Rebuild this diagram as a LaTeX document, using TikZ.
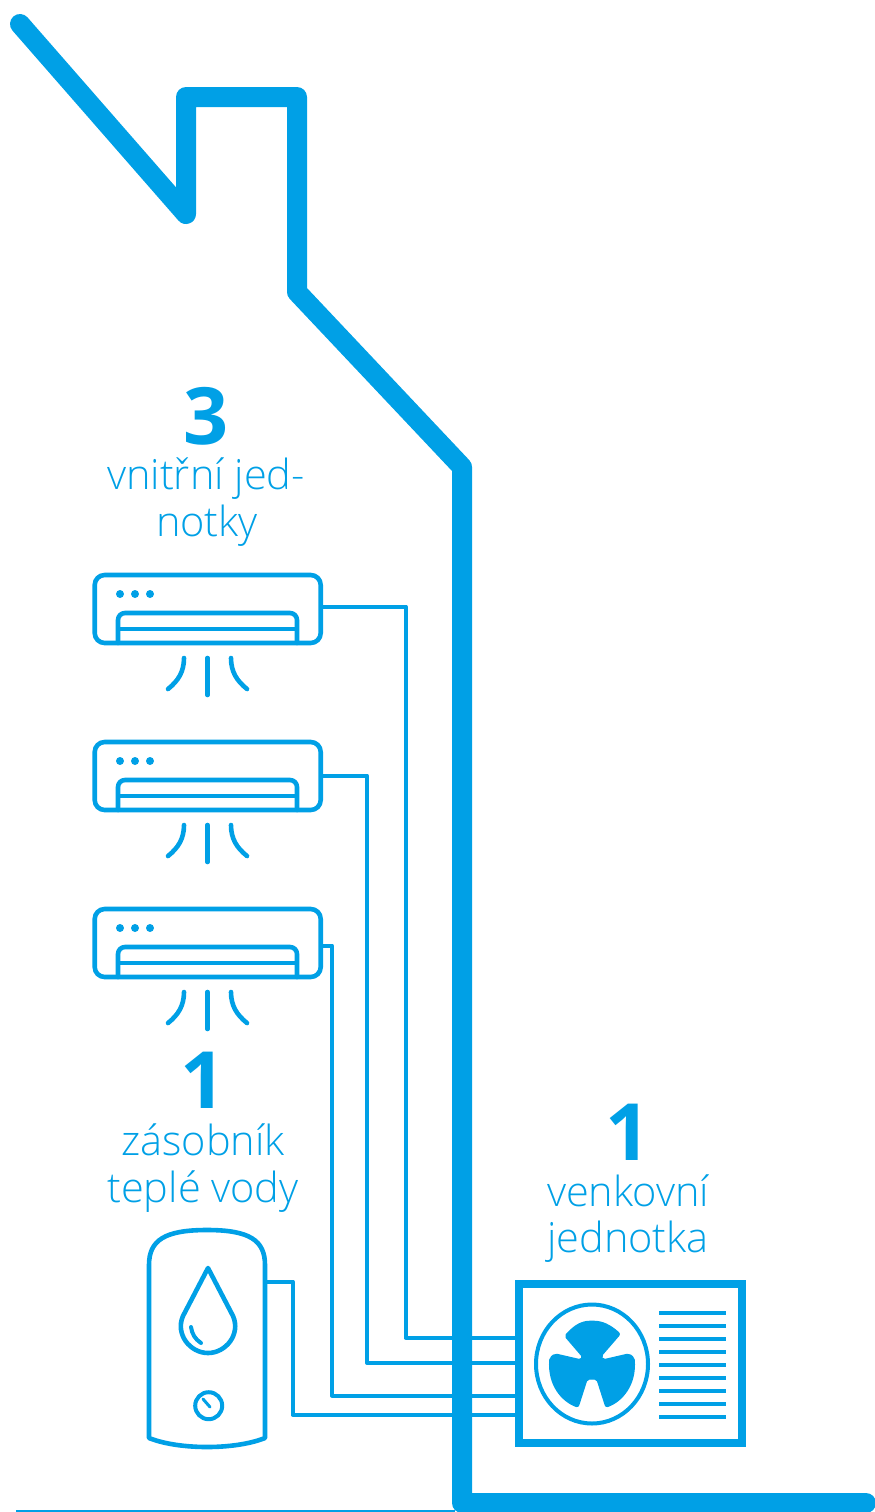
\documentclass[tikz,border=0pt]{standalone}
\usepackage{fontspec}
\setmainfont{Open Sans Light}[BoldFont={Open Sans Bold}]
\definecolor{modra}{HTML}{00A0E6}
\tikzset{
  popis/.style={anchor=base, text=modra, font=\fontsize{41.5}{41.5}\selectfont, inner sep=0pt},
  cislo/.style={anchor=base, text=modra, font=\fontsize{79}{79}\selectfont\bfseries, inner sep=0pt},
  potrubi/.style={draw=modra, line width=4pt, line join=round},
  ikona/.style={draw=modra, line width=4.6pt, line join=round, line cap=round},
  jednotka/.style={draw=modra, line width=4.6pt, rounded corners=10pt, minimum width=226pt, minimum height=68pt, inner sep=0pt}
}
\begin{document}
\begin{tikzpicture}[x=1pt, y=-1pt]
  \useasboundingbox (0,0) rectangle (875,1512);

  % Obrys domu
  \draw[modra, line width=20pt, line join=round, line cap=round]
    (20,24) -- (186,214) -- (186,97) -- (297,97) -- (297,292) -- (462,467) -- (462,1503) -- (866,1503);
  \draw[modra, line width=3pt] (16,1511) -- (455,1511);

  % Vnitrni jednotky
  \foreach \i/\y in {1/575, 2/742, 3/909} {
    \node[jednotka] (vnitrni\i) at (207.7,\y+34) {};
    \draw[ikona, rounded corners=7pt] (118,\y+68) -- (118,\y+38) -- (297,\y+38) -- (297,\y+68);
    \draw[ikona, line cap=butt] (118,\y+54) -- (297,\y+54);
    \foreach \x in {120, 135, 150}
      \fill[modra] (\x,\y+19) circle (4);
    % Proudeni vzduchu
    \draw[ikona] (207.5,\y+83) -- (207.5,\y+120);
    \draw[ikona] (184,\y+83) .. controls (184,\y+97) and (178,\y+106) .. (168,\y+114);
    \draw[ikona] (231,\y+83) .. controls (231,\y+97) and (237,\y+106) .. (247,\y+114);
  }

  % Zasobnik teple vody
  \node[inner sep=0pt, minimum width=116pt, minimum height=217pt] (zasobnik) at (207,1338.5) {};
  \draw[ikona]
    (149,1438) -- (149,1265) .. controls (149,1240) and (165,1230) .. (207,1230)
    .. controls (249,1230) and (265,1240) .. (265,1265) -- (265,1438)
    .. controls (235,1450) and (179,1450) .. cycle;
  % Kapka
  \draw[ikona] (208,1268) -- (233,1316) .. controls (241,1334) and (226,1353) .. (208,1353)
    .. controls (190,1353) and (175,1334) .. (183,1316) -- cycle;
  \draw[ikona, line width=4pt] (191,1327) .. controls (192,1334) and (195,1339) .. (201,1343);
  % Teplomer
  \draw[ikona, line width=4pt] (208.7,1405.7) circle (13.5);
  \draw[ikona, line width=3pt] (203,1399) -- (210,1407);

  % Venkovni jednotka
  \node[draw=modra, line width=7.6pt, inner sep=0pt, minimum width=223pt, minimum height=159pt] (venkovni) at (630.5,1363.5) {};
  \draw[modra, line width=4pt] (592,1364) ellipse (56 and 59.5);
  \filldraw[modra, line width=1.4pt, line join=round, rounded corners=2pt]
    (583,1357) -- (565,1336) .. controls (575,1325) and (582,1321.4) .. (592,1321.4)
    .. controls (602,1321.4) and (610,1325) .. (620,1334) -- (601,1356) -- (603,1360) -- (629,1354) -- (634,1358)
    .. controls (636,1385) and (622,1401) .. (606,1407) -- (597,1379) -- (587,1379) -- (578,1407)
    .. controls (562,1401) and (548,1385) .. (550,1358) -- (555,1354) -- (581,1360) -- cycle;
  \foreach \i in {0,...,8}
    \draw[modra, line width=3.7pt] (659,1313+13*\i) -- (726,1313+13*\i);

  % Potrubi
  \coordinate (ohyb1) at (405.5,1337.5);
  \coordinate (ohyb2) at (367,1363);
  \coordinate (ohyb3) at (332,1395.5);
  \coordinate (ohyb4) at (292.5,1414.5);
  \draw[potrubi] ([yshift=2.5pt]vnitrni1.east) -| (ohyb1) -- (ohyb1 -| venkovni.west);
  \draw[potrubi] ([yshift=0.5pt]vnitrni2.east) -| (ohyb2) -- (ohyb2 -| venkovni.west);
  \draw[potrubi] ([yshift=-2.5pt]vnitrni3.east) -| (ohyb3) -- (ohyb3 -| venkovni.west);
  \draw[potrubi] ([yshift=57pt]zasobnik.east) -| (ohyb4) -- (ohyb4 -| venkovni.west);

  % Popisy
  \node[cislo] (pocet3) at (206,444) {3};
  \node[popis] (text1) at (206,489) {vnitřní jed-};
  \node[popis] (text2) at (207,536) {notky};
  \node[cislo] (pocet1) at (203,1108) {1};
  \node[popis] (text3) at (203,1155) {zásobník};
  \node[popis] (text4) at (203,1202) {teplé vody};
  \node[cislo] (pocet2) at (628,1160) {1};
  \node[popis] (text5) at (628,1206) {venkovní};
  \node[popis] (text6) at (628,1252) {jednotka};
\end{tikzpicture}
\end{document}
